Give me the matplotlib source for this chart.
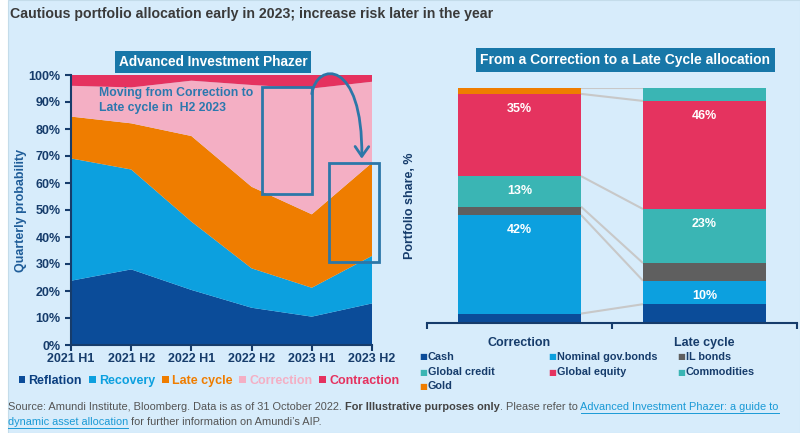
import matplotlib.pyplot as plt
from matplotlib.patches import Rectangle, FancyArrowPatch, Patch
from matplotlib.path import Path
import numpy as np

# --- data: left chart (quarterly probability by regime, %) ---
periods = ["2021 H1", "2021 H2", "2022 H1", "2022 H2", "2023 H1", "2023 H2"]
regimes = ["Reflation", "Recovery", "Late cycle", "Correction", "Contraction"]
reflation = [23.8, 28.0, 20.4, 13.8, 10.5, 15.4]
recovery = [45.3, 37.0, 25.3, 14.6, 10.7, 17.6]
late_cycle = [15.5, 17.1, 31.7, 30.2, 27.2, 34.5]
correction = [11.4, 13.3, 20.5, 37.7, 46.6, 30.0]
contraction = [4.0, 4.6, 2.1, 3.7, 5.0, 2.5]
regime_colors = ["#0b4c99", "#0ca0df", "#ef7d00", "#f4afc4", "#e5325f"]

# --- data: right chart (portfolio share, %) ---
allocations = ["Correction", "Late cycle"]
assets = ["Cash", "Nominal gov.bonds", "IL bonds", "Global credit",
          "Global equity", "Commodities", "Gold"]
cash = [4.0, 8.0]
nominal = [42.0, 10.0]
il_bonds = [3.5, 7.5]
credit = [13.0, 23.0]
equity = [35.0, 46.0]
commodities = [0.0, 5.5]
gold = [2.5, 0.0]
asset_colors = ["#0b4c99", "#0ca0df", "#5f5f5f", "#3ab5b4",
                "#e5335f", "#3ab5b4", "#ef7d00"]
labelled = {"Nominal gov.bonds": ["42%", "10%"],
            "Global credit": ["13%", "23%"],
            "Global equity": ["35%", "46%"]}

W, H = 800, 433
NAVY = "#163c6b"
BLUE_TXT = "#1f5d99"
BOX = "#1877a8"
plt.rcParams["font.family"] = ["Liberation Sans", "DejaVu Sans"]


def fx(px):
    return px / W


def fy(py):
    return 1 - py / H


fig = plt.figure(figsize=(8, 4.33), dpi=100, facecolor="white")
fig.patches.append(Rectangle((fx(8), 0), 1 - fx(8), 1, transform=fig.transFigure,
                             facecolor="#d7ecfb", edgecolor="#c4dcea", lw=0.8, zorder=-10))

fig.text(fx(10), fy(14), "Cautious portfolio allocation early in 2023; increase risk later in the year",
         fontweight="bold", fontsize=10.2, color="#3a3a3a", va="center", ha="left")

# ---------------- left chart ----------------
ax1 = fig.add_axes([fx(71), fy(345), fx(372) - fx(71), fy(75) - fy(345)])
ax1.patch.set_alpha(0)
x = np.arange(len(periods))
ax1.stackplot(x, reflation, recovery, late_cycle, correction, contraction,
              colors=regime_colors, linewidth=0)
ax1.set_xlim(0, 5)
ax1.set_ylim(0, 100)
ax1.set_xticks(x)
ax1.set_xticklabels(periods)
ax1.set_yticks(np.arange(0, 101, 10))
ax1.set_yticklabels([f"{v}%" for v in range(0, 101, 10)])
for s in ["top", "right"]:
    ax1.spines[s].set_visible(False)
for s in ["left", "bottom"]:
    ax1.spines[s].set_color(NAVY)
    ax1.spines[s].set_linewidth(1.5)
ax1.tick_params(axis="both", colors=NAVY, labelcolor=NAVY, length=4, width=1.5, labelsize=9)
ax1.tick_params(axis="x", pad=2)
for lab in ax1.get_xticklabels() + ax1.get_yticklabels():
    lab.set_fontweight("bold")
ax1.set_ylabel("Quarterly probability", fontsize=9, fontweight="bold", color=BLUE_TXT, labelpad=1)

ax1.text(0.47, 95.5, "Moving from Correction to\nLate cycle in  H2 2023", fontsize=8.8,
         fontweight="bold", color="#2b78ae", va="top", ha="left", linespacing=1.3)
ax1.add_patch(Rectangle((3.17, 55.9), 0.83, 39.7, fill=False, edgecolor="#2c77a8", lw=2))
ax1.add_patch(Rectangle((4.29, 30.7), 0.83, 36.7, fill=False, edgecolor="#2c77a8", lw=2,
                        clip_on=False))
arc = Path([(4.0, 93.0), (4.08, 105.0), (4.85, 106.0), (4.83, 69.0)],
           [Path.MOVETO, Path.CURVE4, Path.CURVE4, Path.CURVE4])
ax1.add_patch(FancyArrowPatch(path=arc, arrowstyle="->,head_length=0.5,head_width=0.35",
                              mutation_scale=14, color="#2c77a8", lw=2, clip_on=False))

fig.text(fx(213), fy(62), "Advanced Investment Phazer", fontsize=9.8, fontweight="bold",
         color="white", ha="center", va="center",
         bbox=dict(boxstyle="square,pad=0.3", facecolor=BOX, edgecolor="none"))

handles = [Patch(facecolor=c, edgecolor="none") for c in regime_colors]
leg1 = fig.legend(handles, regimes, ncol=5, loc="center", bbox_to_anchor=(fx(209), fy(381)),
                  frameon=False, handlelength=0.55, handleheight=0.55, handletextpad=0.25,
                  columnspacing=0.55, borderpad=0,
                  labelcolor=["#0b3f80", "#0ca0df", "#ef7d00", "#f4afc4", "#e5325f"],
                  prop=dict(weight="bold", size=9))

# ---------------- right chart ----------------
ax2 = fig.add_axes([fx(427), fy(323), fx(797) - fx(427), fy(88) - fy(323)])
ax2.patch.set_alpha(0)
series = [cash, nominal, il_bonds, credit, equity, commodities, gold]
xb = np.arange(len(allocations))
bw = 0.665
bottom = np.zeros(len(allocations))
tops = []
for name, vals, col in zip(assets, series, asset_colors):
    vals = np.array(vals)
    ax2.bar(xb, vals, bottom=bottom, width=bw, color=col, linewidth=0, zorder=2)
    if name in labelled:
        for i, txt in enumerate(labelled[name]):
            ax2.annotate(txt, (xb[i], bottom[i] + vals[i]), xytext=(0, -10.8),
                         textcoords="offset points", ha="center", va="center",
                         color="white", fontweight="bold", fontsize=9, zorder=3)
    bottom = bottom + vals
    tops.append((vals[0] > 0, bottom.copy()))

for has_first, top in tops:
    if has_first:
        ax2.plot([xb[0] + bw / 2, xb[1] - bw / 2], [top[0], top[1]],
                 color="#c8c8c8", lw=1.5, zorder=1, solid_capstyle="butt")

ax2.set_xlim(-0.5, 1.5)
ax2.set_ylim(0, 100)
ax2.set_yticks([])
ax2.set_xticks(xb)
ax2.set_xticklabels(allocations, fontsize=9, fontweight="bold", color=NAVY)
ax2.set_xticks([-0.5, 0.5, 1.5], minor=True)
ax2.tick_params(axis="x", which="major", length=0, pad=10)
ax2.tick_params(axis="x", which="minor", length=4, width=1.5, color=NAVY)
for s in ["top", "right", "left"]:
    ax2.spines[s].set_visible(False)
ax2.spines["bottom"].set_color(NAVY)
ax2.spines["bottom"].set_linewidth(1.5)
ax2.set_ylabel("Portfolio share, %", fontsize=9, fontweight="bold", color=NAVY, labelpad=8)

fig.text(fx(625.5), fy(60), "From a Correction to a Late Cycle allocation", fontsize=10,
         fontweight="bold", color="white", ha="center", va="center",
         bbox=dict(boxstyle="square,pad=0.35", facecolor=BOX, edgecolor="none"))

# legend (manual grid, row-major as in the reference)
col_x = [423, 552, 681]
row_y = [357, 372, 386]
for k, (name, col) in enumerate(zip(assets, asset_colors)):
    r, c = divmod(k, 3)
    fig.text(fx(col_x[c]), fy(row_y[r]), "\u25a0", fontsize=6, color=col,
             ha="center", va="center", family="DejaVu Sans")
    fig.text(fx(col_x[c] + 5), fy(row_y[r]), name, fontsize=7.8, fontweight="bold",
             color=NAVY, ha="left", va="center")

# ---------------- footer ----------------
FS = 7.9
foot_y1, foot_y2 = fy(407), fy(422)
t = fig.text(fx(8), foot_y1, "Source: Amundi Institute, Bloomberg. Data is as of 31 October 2022. ",
             fontsize=FS, color="#555555", va="center")
fig.canvas.draw()
r = fig.canvas.get_renderer()


def after(txt_obj):
    bb = txt_obj.get_window_extent(renderer=r)
    return bb.x1 / fig.bbox.width


t2 = fig.text(after(t), foot_y1, "For Illustrative purposes only", fontsize=FS,
              fontweight="bold", color="#444444", va="center")
t3 = fig.text(after(t2), foot_y1, ". Please refer to ", fontsize=FS,
              color="#555555", va="center")
t4 = fig.text(after(t3), foot_y1, "Advanced Investment Phazer: a guide to",
              fontsize=FS, color="#1a9ad6", va="center")
t5 = fig.text(fx(8), foot_y2, "dynamic asset allocation", fontsize=FS,
              color="#1a9ad6", va="center")
t6 = fig.text(after(t5), foot_y2, " for further information on Amundi\u2019s AIP.",
              fontsize=FS, color="#555555", va="center")
for link in (t4, t5):
    bb = link.get_window_extent(renderer=r)
    yy = bb.y0 / fig.bbox.height - 0.002
    fig.add_artist(plt.Line2D([bb.x0 / fig.bbox.width, bb.x1 / fig.bbox.width], [yy, yy],
                              transform=fig.transFigure, color="#1a9ad6", lw=0.7))

fig.savefig("out.png", dpi=100, facecolor=fig.get_facecolor())
